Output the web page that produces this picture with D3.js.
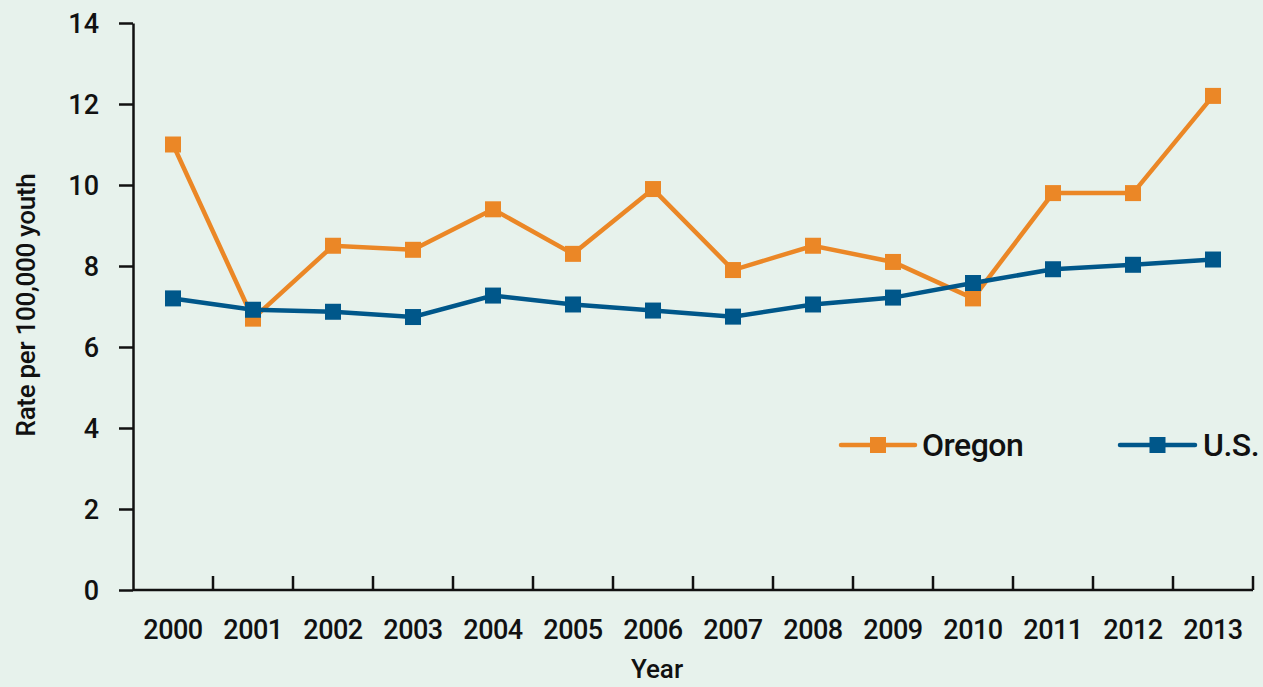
<!DOCTYPE html>
<html>
<head>
<meta charset="utf-8">
<script src="https://cdn.jsdelivr.net/npm/d3@7"></script>
<style>
 html,body{margin:0;padding:0;background:#e7f2ec;}
 svg{display:block;font-family:"Liberation Sans Narrow","Roboto","Liberation Sans",sans-serif;font-weight:500;}
</style>
</head>
<body>
<svg id="chart" width="1263" height="687"></svg>
<script>
// values
 const years=["2000","2001","2002","2003","2004","2005","2006","2007","2008","2009","2010","2011","2012","2013"];
 const oregon=[11.0,6.7,8.5,8.4,9.4,8.3,9.9,7.9,8.5,8.1,7.2,9.8,9.8,12.2];
 const us=[7.2,6.92,6.87,6.74,7.27,7.05,6.9,6.75,7.05,7.22,7.58,7.92,8.03,8.16];
 const yTicks=[0,2,4,6,8,10,12,14];
 const series=[
  {name:"Oregon",values:oregon,color:"#eb8726",legend:[841,915,922]},
  {name:"U.S.",values:us,color:"#00578a",legend:[1120,1195,1203]}];

 const svg=d3.select("#chart");
 const plot={left:133,right:1253,top:23,bottom:590};

 const x=d3.scaleBand().domain(years).range([plot.left,plot.right]);
 const y=d3.scaleLinear().domain([0,14]).range([plot.bottom,plot.top]);
 const cx=year=>x(year)+x.bandwidth()/2;

// y axis: ticks outward to the left
 const yAxis=svg.append("g").attr("transform",`translate(${plot.left},0)`)
  .call(d3.axisLeft(y).tickValues(yTicks).tickSize(14).tickPadding(20).tickSizeOuter(0));
 yAxis.select(".domain").attr("stroke","#111").attr("stroke-width",2.5);
 yAxis.selectAll(".tick line").attr("stroke","#111").attr("stroke-width",2.5);
 yAxis.selectAll("text").attr("font-size",27).attr("fill","#111").attr("dy","0.36em");
 yAxis.attr("font-family",null).attr("font-size",null);

// x axis: the line, with inward ticks on the band boundaries
 const xAxis=svg.append("g");
 xAxis.append("line").attr("x1",plot.left).attr("x2",plot.right).attr("y1",plot.bottom).attr("y2",plot.bottom)
  .attr("stroke","#111").attr("stroke-width",2.5);
 xAxis.selectAll("line.tick").data(years.slice(1).concat([null])).join("line").attr("class","tick")
  .attr("x1",d=>d?x(d):plot.right).attr("x2",d=>d?x(d):plot.right)
  .attr("y1",plot.bottom).attr("y2",plot.bottom-14).attr("stroke","#111").attr("stroke-width",2.5);
 xAxis.selectAll("text").data(years).join("text")
  .attr("x",cx).attr("y",plot.bottom+49).attr("text-anchor","middle")
  .attr("font-size",27).attr("fill","#111").attr("letter-spacing",-0.5).text(d=>d);

// axis titles
 svg.append("text").attr("transform","translate(35,305) rotate(-90)").attr("text-anchor","middle")
  .attr("font-size",26).attr("fill","#111").attr("letter-spacing",-0.3).text("Rate per 100,000 youth");
 svg.append("text").attr("x",657).attr("y",678).attr("text-anchor","middle")
  .attr("font-size",26).attr("fill","#111").text("Year");

// series
 const line=d3.line().x((d,i)=>cx(years[i])).y(d=>y(d));
 const groups=svg.selectAll("g.series").data(series).join("g").attr("class","series");
 groups.append("path").attr("d",d=>line(d.values)).attr("fill","none")
  .attr("stroke",d=>d.color).attr("stroke-width",4.5).attr("stroke-linejoin","miter");
 groups.each(function(s){
  d3.select(this).selectAll("rect").data(s.values).join("rect")
   .attr("x",(d,i)=>cx(years[i])-8).attr("y",d=>y(d)-8)
   .attr("width",16).attr("height",16).attr("fill",s.color);
 });

// legend
 const legend=svg.selectAll("g.legend").data(series).join("g").attr("class","legend");
 legend.append("line").attr("x1",d=>d.legend[0]).attr("x2",d=>d.legend[1]).attr("y1",445).attr("y2",445)
  .attr("stroke",d=>d.color).attr("stroke-width",4.5).attr("stroke-linecap","round");
 legend.append("rect").attr("x",d=>(d.legend[0]+d.legend[1])/2-8).attr("y",437)
  .attr("width",16).attr("height",16).attr("fill",d=>d.color);
 legend.append("text").attr("x",d=>d.legend[2]).attr("y",456)
  .attr("font-size",32).attr("fill","#111").attr("letter-spacing",-0.5).text(d=>d.name);
</script>
</body>
</html>
